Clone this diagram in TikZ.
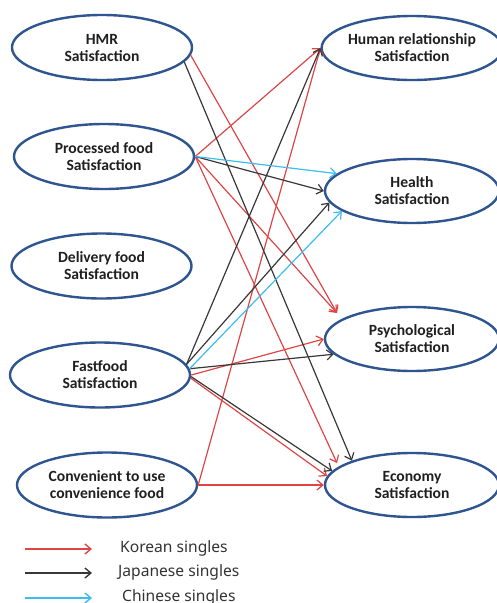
\documentclass[tikz,border=0pt]{standalone}
\usepackage{fontspec}
\setmainfont{Carlito}
\newfontfamily\legendfont{Noto Sans}
\usetikzlibrary{shapes.geometric,arrows.meta}
\definecolor{ebl}{HTML}{2F5590}
\definecolor{kor}{HTML}{DE4646}
\definecolor{jap}{HTML}{383838}
\definecolor{chi}{HTML}{3BBDF0}
\begin{document}
\begin{tikzpicture}[x=1pt,y=-1pt,
  ell/.style={ellipse, draw=ebl, line width=2.4pt, inner sep=0pt, minimum width=180pt, minimum height=65pt, align=center, font=\bfseries\fontsize{15.6}{17}\selectfont, text=black!88},
  rell/.style={ell, minimum width=174pt, minimum height=64pt},
  arr/.style={line width=1.2pt, -{Straight Barb[length=6pt,width=10pt]}},
  kr/.style={arr, draw=kor}, jp/.style={arr, draw=jap}, cn/.style={arr, draw=chi},
  leg/.style={font=\legendfont\fontsize{15.6}{17}\selectfont, text=black!80, anchor=west, inner sep=0pt}]
\useasboundingbox (0,0) rectangle (497,603);
% left column
\node[ell] (hmr) at (102,47.5) {HMR\\Satisfaction};
\node[ell] (proc) at (104,156.5) {Processed food\\Satisfaction};
\node[ell] (deliv) at (101.5,266) {Delivery food\\Satisfaction};
\node[ell] (fast) at (100,375) {Fastfood\\Satisfaction};
\node[ell] (conv) at (107,485) {Convenient to use\\convenience food};
% right column
\node[rell] (hum) at (412,48) {Human relationship\\Satisfaction};
\node[rell] (health) at (412,191) {Health\\Satisfaction};
\node[rell] (psy) at (412,339) {Psychological\\Satisfaction};
\node[rell] (econ) at (412,485) {Economy\\Satisfaction};
\coordinate (psyin) at (337,313);
\coordinate (econin) at (337,463);
% Korean singles
\draw[kr] (hmr.-5) -- (psyin);
\draw[kr] (proc.east) -- (hum.west);
\draw[kr] (proc.east) -- (psyin);
\draw[kr] (proc.east) -- (econin);
\draw[kr] (fast.0) -- (psy.west);
\draw[kr] (fast.-2) -- (econ.174);
\draw[kr] (conv.east) -- (hum.west);
\draw[kr] (conv.east) -- (econ.west);
% Japanese singles
\draw[jp] (hmr.-10) -- (econ.158);
\draw[jp] (proc.east) -- (health.west);
\draw[jp] (fast.7) -- (hum.west);
\draw[jp] (fast.7) -- (health.188);
\draw[jp] (fast.4) -- (psy.191);
\draw[jp] (fast.-1) -- (econ.170);
% Chinese singles
\draw[cn] (proc.east) -- (health.167);
\draw[cn] (fast.4) -- (health.196);
% legend
\coordinate (k1) at (25,549); \coordinate (k2) at (92,549);
\coordinate (j1) at (25,573); \coordinate (j2) at (92,573);
\coordinate (c1) at (25,598); \coordinate (c2) at (92,598);
\draw[kr, line width=1.4pt] (k1) -- (k2);
\draw[jp, line width=1.4pt] (j1) -- (j2);
\draw[cn, line width=1.4pt] (c1) -- (c2);
\node[leg] (kt) at (120,548) {Korean singles};
\node[leg] (jt) at (118,572) {Japanese singles};
\node[leg] (ct) at (122,597) {Chinese singles};
\end{tikzpicture}
\end{document}
